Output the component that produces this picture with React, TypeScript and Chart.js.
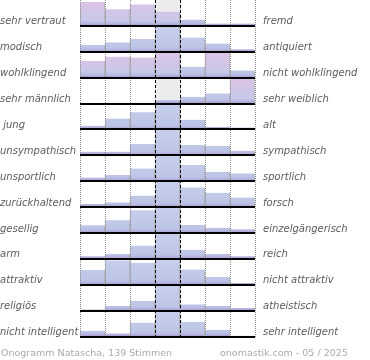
import React, { useEffect, useRef } from 'react';
import { Chart, registerables } from 'chart.js';

Chart.register(...registerables);

// scale positions (7 steps of the semantic differential)
const categories = ['-3', '-2', '-1', '0', '+1', '+2', '+3'];

const leftLabels = [
  'sehr vertraut', 'modisch', 'wohlklingend', 'sehr männlich', ' jung', 'unsympathisch',
  'unsportlich', 'zurückhaltend', 'gesellig', 'arm', 'attraktiv', 'religiös', 'nicht intelligent',
];
const rightLabels = [
  'fremd', 'antiquiert', 'nicht wohlklingend', 'sehr weiblich', 'alt', 'sympathisch',
  'sportlich', 'forsch', 'einzelgängerisch', 'reich', 'nicht attraktiv', 'atheistisch', 'sehr intelligent',
];

// bar heights, in % of the row height (capped at 100)
const vertraut = [92, 64, 83, 55, 24, 9, 9];
const modisch = [26, 36, 49, 100, 55, 32, 10];
const wohlklingend = [64, 81, 78, 100, 42, 95, 28];
const maennlich = [0, 3, 3, 13, 26, 39, 96];
const jung = [14, 42, 66, 100, 37, 10, 7];
const unsympathisch = [14, 14, 44, 100, 40, 37, 18];
const unsportlich = [14, 24, 49, 100, 63, 36, 30];
const zurueckhaltend = [12, 18, 44, 100, 76, 55, 37];
const gesellig = [30, 49, 88, 100, 31, 20, 14];
const arm = [10, 19, 51, 100, 35, 19, 10];
const attraktiv = [57, 94, 85, 100, 59, 30, 7];
const religioes = [4, 18, 37, 100, 24, 18, 10];
const intelligent = [22, 12, 53, 100, 57, 26, 3];

const rows = [
  vertraut, modisch, wohlklingend, maennlich, jung, unsympathisch, unsportlich,
  zurueckhaltend, gesellig, arm, attraktiv, religioes, intelligent,
];

// highlighted (pink) bars per row
const highlightVertraut = [1, 1, 1, 1, 0, 0, 0];
const highlightWohlklingend = [1, 1, 1, 1, 0, 1, 0];
const highlightMaennlich = [0, 0, 0, 0, 0, 0, 1];
const noHighlight = [0, 0, 0, 0, 0, 0, 0];
const highlights = [
  highlightVertraut, noHighlight, highlightWohlklingend, highlightMaennlich,
  noHighlight, noHighlight, noHighlight, noHighlight, noHighlight, noHighlight,
  noHighlight, noHighlight, noHighlight,
];

const footerLeft = 'Onogramm Natascha, 139 Stimmen';
const footerRight = 'onomastik.com - 05 / 2025';

function barFill(c: any, r: number, pink: boolean) {
  const chart = c.chart;
  const y = chart.scales && chart.scales.y;
  if (!y || !chart.chartArea) return pink ? '#d8c6e6' : '#c5cdea';
  const top = y.getPixelForValue(r);
  const bottom = y.getPixelForValue(r + 1);
  const h = Math.max(bottom - top, 1);
  const g = chart.ctx.createLinearGradient(0, top, 0, bottom);
  const strip = Math.max(0, 1 - 3 / h);
  if (pink) {
    g.addColorStop(0, '#dec3e4');
    g.addColorStop(strip * 0.9, '#c7c8e9');
  } else {
    g.addColorStop(0, '#c7cfec');
    g.addColorStop(strip * 0.9, '#bec6e7');
  }
  g.addColorStop(strip, '#b9bde3');
  g.addColorStop(1, '#a89bcf');
  return g;
}

const footerPlugin = {
  id: 'footerTexts',
  afterDraw(chart: any) {
    const ctx = chart.ctx;
    ctx.save();
    ctx.font = '9.5px "DejaVu Sans"';
    ctx.fillStyle = '#ababab';
    ctx.textBaseline = 'alphabetic';
    ctx.textAlign = 'left';
    ctx.fillText(footerLeft, 1, 356);
    ctx.fillText(footerRight, 220, 356);
    ctx.restore();
  },
};

export default function App() {
  const ref = useRef<HTMLCanvasElement | null>(null);

  useEffect(() => {
    if (!ref.current) return;
    const nRows = rows.length;
    const labelFont = { family: '"DejaVu Sans"', size: 10, style: 'italic' as const };

    const datasets: any[] = [
      {
        label: 'neutral',
        data: categories.map((_, i) => (i === 3 ? [0, nRows] : null)),
        backgroundColor: '#ececec',
        borderWidth: 0,
        grouped: false,
        barPercentage: 1,
        categoryPercentage: 1,
        order: 2,
      },
      ...rows.map((vals, r) => ({
        label: leftLabels[r],
        data: vals.map((v) => [r + 1 - v / 100, r + 1]),
        backgroundColor: (c: any) => barFill(c, r, !!highlights[r][c.dataIndex]),
        borderColor: 'rgba(115,115,115,0.55)',
        borderWidth: { left: 1, right: 1, top: 0, bottom: 0 },
        borderSkipped: false,
        grouped: false,
        barPercentage: 1,
        categoryPercentage: 1,
        order: 1,
      })),
    ];

    const chart = new Chart(ref.current, {
      type: 'bar',
      data: { labels: categories, datasets },
      plugins: [footerPlugin],
      options: {
        animation: false,
        responsive: false,
        layout: { padding: { top: 0, left: 0, right: 0, bottom: 23.5 } },
        plugins: { legend: { display: false }, tooltip: { enabled: false }, title: { display: false } },
        scales: {
          x: {
            type: 'category',
            offset: true,
            grid: { offset: true, color: '#8a8a8a', lineWidth: 1, drawTicks: false, z: 0 },
            border: { display: false, dash: [1, 1] },
            ticks: { display: false },
            afterFit: (s: any) => { s.height = 0; },
          },
          x2: {
            type: 'category',
            labels: categories,
            position: 'bottom',
            offset: true,
            grid: {
              offset: true,
              drawTicks: false,
              z: 1,
              color: (c: any) => (c.index === 3 || c.index === 4 ? '#000000' : 'rgba(0,0,0,0)'),
            },
            border: { display: false, dash: [3, 2] },
            ticks: { display: false },
            afterFit: (s: any) => { s.height = 0; },
          },
          y: {
            type: 'linear',
            position: 'left',
            min: 0,
            max: nRows,
            reverse: true,
            afterBuildTicks: (s: any) => { s.ticks = s.ticks.filter((t: any) => t.value >= 1); },
            ticks: {
              stepSize: 1,
              autoSkip: false,
              crossAlign: 'far',
              labelOffset: -4,
              padding: 0,
              color: '#5c5c5c',
              font: labelFont,
              callback: (v: any) => leftLabels[Number(v) - 1] ?? '',
            },
            grid: { color: '#000000', lineWidth: 2, drawTicks: false, z: 1 },
            border: { display: false },
            afterFit: (s: any) => { s.width = 80; s.paddingTop = 0; s.paddingBottom = 0; },
          },
          y2: {
            type: 'linear',
            position: 'right',
            min: 0,
            max: nRows,
            reverse: true,
            afterBuildTicks: (s: any) => { s.ticks = s.ticks.filter((t: any) => t.value >= 1); },
            ticks: {
              stepSize: 1,
              autoSkip: false,
              crossAlign: 'near',
              labelOffset: -4,
              padding: 8,
              color: '#5c5c5c',
              font: labelFont,
              callback: (v: any) => rightLabels[Number(v) - 1] ?? '',
            },
            grid: { display: false, drawTicks: false },
            border: { display: false },
            afterFit: (s: any) => { s.width = 115; s.paddingTop = 0; s.paddingBottom = 0; },
          },
        },
      } as any,
    });
    return () => chart.destroy();
  }, []);

  return (
    <div style={{ position: 'absolute', left: 0, top: 0, width: 370, height: 360, background: '#fff' }}>
      <canvas ref={ref} width={370} height={360} style={{ display: 'block' }} />
    </div>
  );
}
